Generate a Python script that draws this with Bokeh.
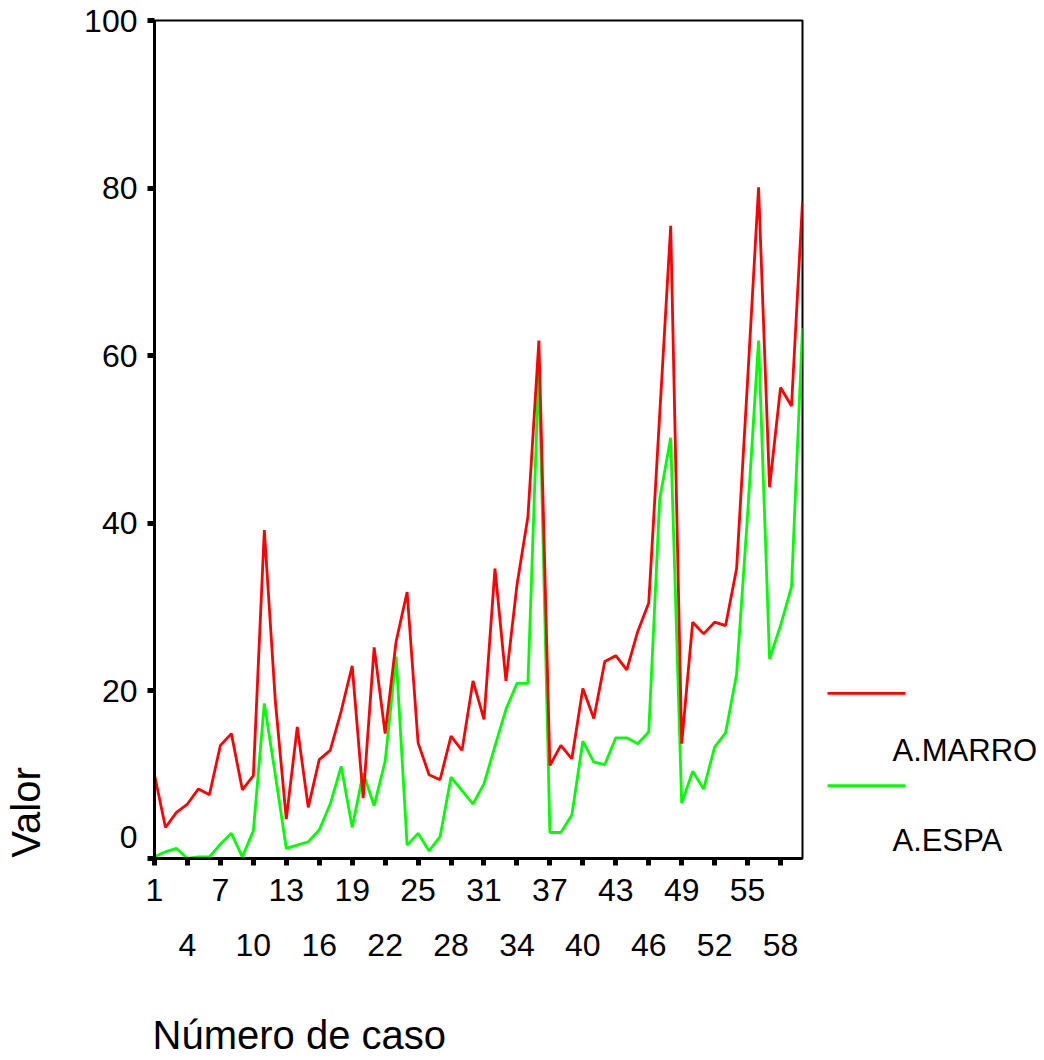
import math
from bokeh.plotting import figure
from bokeh.layouts import row, column
from bokeh.models import Range1d, LinearAxis, FixedTicker
from bokeh.core.properties import value
from bokeh.embed import file_html
from bokeh.resources import INLINE

# ---- data ----
cases = list(range(1, 61))
marro = [10.0, 3.7, 5.5, 6.5, 8.3, 7.6, 13.5, 14.9, 8.2, 9.9,
         39.2, 18.8, 4.7, 15.7, 6.1, 11.8, 12.9, 17.6, 23.0, 7.2,
         25.2, 14.9, 25.9, 31.8, 13.8, 10.0, 9.4, 14.6, 12.9, 21.2,
         16.6, 34.6, 21.2, 32.6, 40.8, 61.8, 11.1, 13.5, 11.9, 20.3,
         16.7, 23.5, 24.2, 22.5, 27.1, 30.5, 53.0, 75.5, 13.7, 28.2,
         26.8, 28.2, 27.8, 34.6, 57.0, 80.1, 44.3, 56.2, 54.0, 78.4]
espa = [0.2, 0.8, 1.2, 0.0, 0.2, 0.2, 1.7, 3.0, 0.2, 3.3,
        18.5, 10.0, 1.2, 1.6, 2.0, 3.4, 6.5, 11.0, 3.7, 10.2,
        6.3, 11.6, 24.1, 1.6, 3.0, 0.9, 2.6, 9.7, 8.1, 6.5,
        8.9, 13.4, 17.8, 20.9, 20.9, 59.0, 3.1, 3.1, 5.2, 14.0,
        11.5, 11.2, 14.4, 14.4, 13.7, 15.1, 42.9, 50.2, 6.6, 10.4,
        8.3, 13.3, 15.0, 22.0, 41.0, 61.8, 23.8, 27.8, 32.4, 63.3]
series_names = ["A.MARRO", "A.ESPA"]
series_colors = ["#FF0000", "#00FF00"]
y_ticks = [0, 20, 40, 60, 80, 100]
x_ticks_row1 = list(range(1, 61, 6))   # 1, 7, ..., 55
x_ticks_row2 = list(range(4, 61, 6))   # 4, 10, ..., 58
x_title = "Número de caso"
y_title = "Valor"

FONT = "Liberation Sans"
TOP_H = 993        # height of the top row (plot + side panels)
BOTTOM_H = 67      # strip holding the x title
LEFT_W = 60        # strip holding the y title


def blank_panel(w, h):
    f = figure(frame_width=w, frame_height=h, min_border=0,
               x_range=Range1d(0, w), y_range=Range1d(0, h),
               output_backend="svg", toolbar_location=None, tools="")
    f.axis.visible = False
    f.grid.visible = False
    f.outline_line_color = None
    f.background_fill_color = "white"
    f.border_fill_color = "white"
    return f


# ---- main plot ----
p = figure(frame_width=648, frame_height=838,
           min_border_left=154 - LEFT_W, min_border_right=6,
           min_border_top=20, min_border_bottom=TOP_H - 20 - 838,
           x_range=Range1d(1, 60), y_range=Range1d(0, 100),
           output_backend="svg", toolbar_location=None, tools="")
p.xaxis.visible = False
p.yaxis.visible = False
p.grid.visible = False
p.outline_line_color = "black"
p.outline_line_width = 2
p.background_fill_color = "white"
p.border_fill_color = "white"


def style_axis(ax):
    ax.axis_line_color = "black"
    ax.axis_line_width = 3
    ax.major_tick_line_color = "black"
    ax.major_tick_line_width = 5
    ax.major_tick_out = 7
    ax.major_tick_in = 0
    ax.minor_tick_line_color = None
    ax.major_label_text_font = FONT
    ax.major_label_text_font_size = "32px"
    ax.major_label_text_color = "black"
    ax.major_label_standoff = 10


yax = LinearAxis(ticker=FixedTicker(ticks=y_ticks))
style_axis(yax)
yax.major_label_overrides = {0: "0\n "}
p.add_layout(yax, "left")

xax = LinearAxis(ticker=FixedTicker(ticks=sorted(x_ticks_row1 + x_ticks_row2)))
style_axis(xax)
xax.major_label_standoff = 13
xax.major_label_overrides = {t: "" for t in x_ticks_row2}
p.add_layout(xax, "below")

xax2 = LinearAxis(ticker=FixedTicker(ticks=x_ticks_row2))
style_axis(xax2)
xax2.axis_line_color = None
xax2.major_tick_line_color = None
xax2.major_tick_out = 0
xax2.major_label_standoff = 30
p.add_layout(xax2, "below")

p.line(cases, espa, line_color=series_colors[1], line_width=2.8)
p.line(cases, marro, line_color=series_colors[0], line_width=2.8)

# ---- y title strip ----
left = blank_panel(LEFT_W, TOP_H)
left.text(x=[25], y=[TOP_H - 792], text=[y_title], angle=math.pi / 2,
          text_font=value(FONT), text_font_size="40px", text_color="black",
          text_align="center", text_baseline="middle")

# ---- legend panel (SPSS style: line above, label below-right) ----
lg = figure(frame_width=234, frame_height=838,
            min_border_left=0, min_border_right=0,
            min_border_top=20, min_border_bottom=TOP_H - 20 - 838,
            x_range=Range1d(0, 234), y_range=p.y_range,
            output_backend="svg", toolbar_location=None, tools="")
lg.axis.visible = False
lg.grid.visible = False
lg.outline_line_color = None
lg.background_fill_color = "white"
lg.border_fill_color = "white"

leg_line_y = [19.7, 8.7]
leg_text_y = [12.9, 2.15]
lg.segment(x0=[19, 19], y0=leg_line_y, x1=[97, 97], y1=leg_line_y,
           line_color=series_colors, line_width=2.8)
lg.text(x=[84, 84], y=leg_text_y, text=series_names,
        text_font=value(FONT), text_font_size="31px", text_color="black",
        text_align="left", text_baseline="middle")

# ---- x title strip ----
bottom = blank_panel(154 + 648 + 6 + 234, BOTTOM_H)
bottom.text(x=[152], y=[26], text=[x_title],
            text_font=value(FONT), text_font_size="40px", text_color="black",
            text_align="left", text_baseline="middle")

layout = column(row(left, p, lg, spacing=0), bottom, spacing=0)
open("out.html", "w").write(file_html(layout, INLINE))
